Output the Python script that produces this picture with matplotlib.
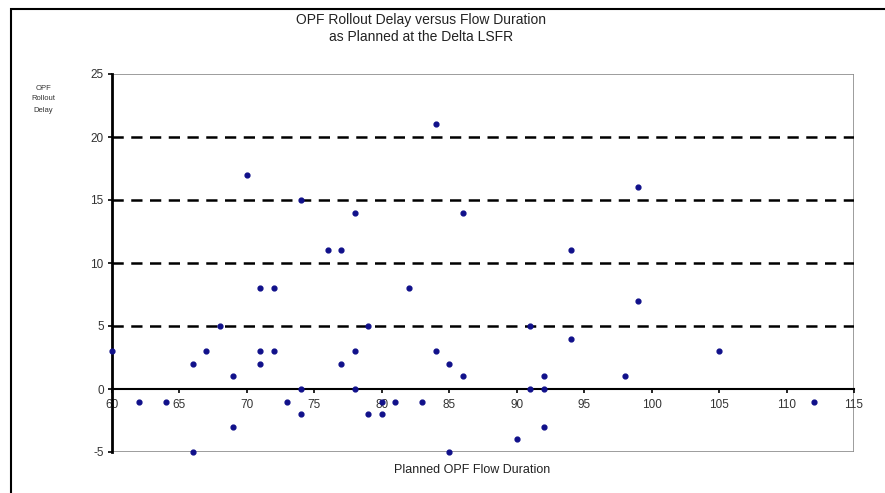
import matplotlib.pyplot as plt
from matplotlib.patches import Rectangle

plt.rcParams['font.family'] = ['Liberation Sans', 'DejaVu Sans']
plt.rcParams['axes.unicode_minus'] = False

# planned flow duration (days) and rollout delay
flow_duration = [60, 62, 64, 66, 66, 67, 68, 69, 69, 70,
                 71, 71, 71, 72, 72, 73, 74, 74, 74, 76,
                 77, 77, 78, 78, 78, 79, 79, 80, 80, 81,
                 82, 83, 84, 84, 85, 85, 86, 86, 90, 91,
                 91, 92, 92, 92, 94, 94, 98, 99, 99, 105, 112]
rollout_delay = [3, -1, -1, -5, 2, 3, 5, 1, -3, 17,
                 8, 3, 2, 8, 3, -1, 15, 0, -2, 11,
                 11, 2, 14, 3, 0, 5, -2, -1, -2, -1,
                 8, -1, 21, 3, 2, -5, 1, 14, -4, 5,
                 0, 0, 1, -3, 11, 4, 1, 16, 7, 3, -1]

x_ticks = [60, 65, 70, 75, 80, 85, 90, 95, 100, 105, 110, 115]
y_ticks = [-5, 0, 5, 10, 15, 20, 25]
dashed_levels = [5, 10, 15, 20]

fig = plt.figure(figsize=(8.85, 4.93), dpi=100)
fig.patches.append(Rectangle((11 / 885, -0.1), 1.2, 1 - 9 / 493 + 0.1,
                             transform=fig.transFigure, fill=False,
                             edgecolor='black', linewidth=1.5))

ax = fig.add_axes([112 / 885, 1 - 452 / 493, (854 - 112) / 885, (452 - 74) / 493])
ax.set_xlim(60, 115)
ax.set_ylim(-5, 25)

# gray plot-area box
ax.add_patch(Rectangle((0, 0), 1, 1, transform=ax.transAxes, fill=False,
                       edgecolor='#8c8c8c', linewidth=1.2, zorder=1))
for side in ['top', 'right']:
    ax.spines[side].set_visible(False)
ax.spines['left'].set_linewidth(2)
ax.spines['bottom'].set_position(('data', 0))
ax.spines['bottom'].set_linewidth(1.5)

for lvl in dashed_levels:
    ax.axhline(lvl, color='black', linestyle=(0, (4.5, 3)), linewidth=1.8, zorder=2)

ax.scatter(flow_duration, rollout_delay, s=12, color='#10108a', marker='o',
           zorder=5, clip_on=False)

ax.set_xticks(x_ticks)
ax.set_yticks(y_ticks)
ax.tick_params(axis='x', direction='out', length=3, width=1.2, labelsize=8.5,
               pad=4, labelcolor='#333333')
ax.tick_params(axis='y', direction='out', length=3, width=1.2, labelsize=8.5,
               pad=3, labelcolor='#333333')

fig.text(421 / 885, 1 - 20 / 493, 'OPF Rollout Delay versus Flow Duration',
         ha='center', va='center', fontsize=10, color='#222222')
fig.text(421 / 885, 1 - 37 / 493, 'as Planned at the Delta LSFR',
         ha='center', va='center', fontsize=10, color='#222222')
fig.text(43 / 885, 1 - 99 / 493, 'OPF\nRollout\nDelay', ha='center',
         va='center', fontsize=5.5, linespacing=1.8, color='#333333')
fig.text(472 / 885, 1 - 470 / 493, 'Planned OPF Flow Duration', ha='center',
         va='center', fontsize=9, color='#222222')

fig.savefig('out.png', dpi=100)
